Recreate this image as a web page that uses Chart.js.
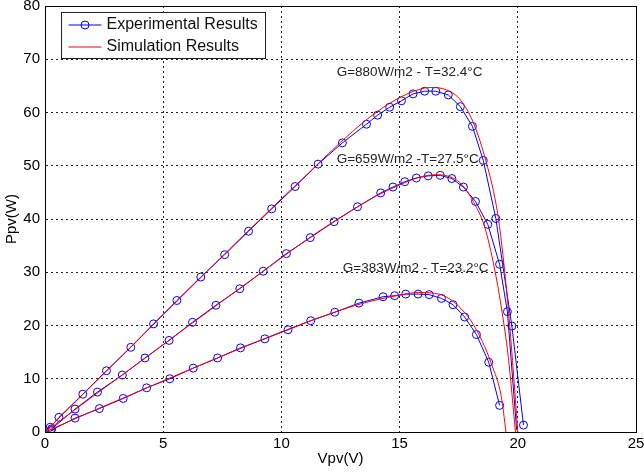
<!DOCTYPE html>
<html>
<head>
<meta charset="utf-8">
<script src="https://cdn.jsdelivr.net/npm/chart.js@4.4.1/dist/chart.umd.min.js"></script>
<style>
  html, body { margin: 0; padding: 0; background: #fff; }
  #wrap { width: 644px; height: 472px; }
</style>
</head>
<body>
<div id="wrap"><canvas id="c" width="644" height="472"></canvas></div>
<script>
// ---------- DATA ----------
// Experimental results (blue, circles)
const exp880V = [0.22, 0.59, 1.60, 2.60, 3.63, 4.59, 5.58, 6.59, 7.60, 8.61, 9.59, 10.58, 11.55, 12.58, 13.60, 14.07, 14.58, 15.08, 15.57, 16.06, 16.53, 17.06, 17.57, 18.08, 18.54, 19.07, 19.75, 20.24];
const exp880P = [0.9, 2.75, 7.1, 11.5, 15.9, 20.3, 24.7, 29.1, 33.3, 37.7, 41.9, 46.1, 50.3, 54.3, 57.8, 59.5, 61.0, 62.2, 63.5, 64.0, 64.0, 63.3, 61.1, 57.4, 51.0, 40.1, 19.9, 1.3];

const exp659V = [0.28, 1.27, 2.22, 3.27, 4.23, 5.25, 6.24, 7.23, 8.24, 9.23, 10.21, 11.22, 12.23, 13.22, 14.20, 14.72, 15.22, 15.71, 16.21, 16.72, 17.21, 17.70, 18.21, 18.73, 19.23, 19.56, 19.95];
const exp659P = [0.6, 4.3, 7.5, 10.7, 13.9, 17.2, 20.6, 23.8, 26.9, 30.2, 33.5, 36.5, 39.5, 42.3, 44.9, 46.0, 47.0, 47.7, 48.1, 48.2, 47.6, 46.0, 43.3, 39.0, 31.5, 22.6, 0.4];

const exp383V = [0.25, 1.27, 2.30, 3.31, 4.30, 5.28, 6.27, 7.30, 8.27, 9.30, 10.28, 11.24, 12.26, 13.28, 14.30, 14.79, 15.26, 15.78, 16.25, 16.77, 17.26, 17.75, 18.25, 18.77, 19.23];
const exp383P = [0.3, 2.6, 4.4, 6.3, 8.3, 10.0, 12.0, 13.9, 15.8, 17.5, 19.2, 20.9, 22.5, 24.2, 25.4, 25.6, 25.9, 25.9, 25.8, 25.1, 23.9, 21.6, 18.3, 13.1, 5.0];

// Simulation results (red lines)
const sim880V = [0, 1, 2, 3, 4, 5, 6, 7, 8, 9, 10, 11, 12, 13, 14, 15, 15.8, 16.3, 16.8, 17.3, 17.6, 18.1, 18.6, 19.1, 19.3, 19.6, 19.8, 20.0];
const sim880P = [0, 4.4, 8.8, 13.2, 17.6, 22.0, 26.4, 30.8, 35.2, 39.5, 43.8, 48.0, 52.3, 56.4, 60.0, 62.8, 64.3, 64.7, 64.5, 63.5, 62.2, 58.3, 51.7, 42.3, 36.0, 23.0, 12.0, 0];

const sim659V = [0, 2, 4, 6, 8, 10, 11, 12, 13, 14, 15, 15.8, 16.5, 17.0, 17.6, 18.2, 18.6, 19.0, 19.3, 19.6, 19.9];
const sim659P = [0, 6.6, 13.1, 19.7, 26.2, 32.7, 35.9, 38.9, 41.7, 44.3, 46.4, 47.8, 48.3, 48.1, 46.6, 42.6, 38.5, 31.0, 23.5, 14.0, 0];

const sim383V = [0, 2, 4, 6, 8, 10, 11, 12, 13, 14, 15, 15.8, 16.4, 17.0, 17.5, 18.0, 18.5, 18.9, 19.3, 19.5];
const sim383P = [0, 3.9, 7.7, 11.5, 15.2, 18.8, 20.5, 22.1, 23.6, 24.8, 25.7, 26.2, 26.1, 25.3, 23.6, 21.0, 17.0, 12.6, 6.7, 0];

// Axis ticks
const xTicks = [0, 5, 10, 15, 20, 25];
const yTicks = [0, 10, 20, 30, 40, 50, 60, 70, 80];

// Curve annotations
const labelTexts = ['G=880W/m2 - T=32.4°C', 'G=659W/m2 -T=27.5°C', 'G=383W/m2 - T=23.2°C'];
const labelV = [12.34, 12.34, 12.6];
const labelP = [67.6, 51.25, 30.8];

const legendNames = ['Experimental Results', 'Simulation Results'];
const xTitle = 'Vpv(V)';
const yTitle = 'Ppv(W)';

// ---------- CHART ----------
const FONT = '"Liberation Sans", Arial, Helvetica, sans-serif';
const BLUE = '#0000ff';
const RED = '#ff0000';

function pts(xs, ys) { return xs.map((x, i) => ({ x: x, y: ys[i] })); }

function expSet(xs, ys, hideLast) {
  return {
    data: pts(xs, ys),
    showLine: true,
    borderColor: BLUE,
    borderWidth: 1,
    backgroundColor: 'rgba(0,0,0,0)',
    pointStyle: 'circle',
    pointRadius: ctx => (hideLast && ctx.dataIndex === xs.length - 1) ? 0 : 4,
    pointBorderColor: BLUE,
    pointBackgroundColor: 'rgba(0,0,0,0)',
    pointBorderWidth: 1,
    tension: 0,
    order: 2
  };
}
function simSet(xs, ys) {
  return {
    data: pts(xs, ys),
    showLine: true,
    borderColor: RED,
    borderWidth: 1,
    pointRadius: 0,
    cubicInterpolationMode: 'monotone',
    order: 1
  };
}

const framePlugin = {
  id: 'frame',
  beforeDatasetsDraw(chart) {
    const { ctx, scales } = chart;
    ctx.save();
    ctx.font = '13.5px ' + FONT;
    ctx.fillStyle = '#222';
    ctx.textBaseline = 'middle';
    ctx.textAlign = 'left';
    labelTexts.forEach((t, i) => {
      ctx.fillText(t, scales.x.getPixelForValue(labelV[i]), scales.y.getPixelForValue(labelP[i]));
    });
    ctx.restore();
  },
  afterDraw(chart) {
    const { ctx, chartArea: a } = chart;
    ctx.save();
    ctx.strokeStyle = '#000';
    ctx.lineWidth = 1;
    ctx.setLineDash([]);
    const L = Math.round(a.left) + 0.5, T = Math.round(a.top) + 0.5;
    const R = Math.round(a.right) + 0.5, B = Math.round(a.bottom) + 0.5;
    ctx.strokeRect(L, T, R - L, B - T);

    // legend box inside plot area
    const bx = L + 16, by = T + 6, bw = 204, bh = 46;
    ctx.fillStyle = '#fff';
    ctx.fillRect(bx, by, bw, bh);
    ctx.strokeStyle = '#222';
    ctx.strokeRect(bx, by, bw, bh);

    const rows = [by + 12.5, by + 34.5];
    // experimental sample
    ctx.strokeStyle = BLUE;
    ctx.beginPath(); ctx.moveTo(bx + 7, rows[0]); ctx.lineTo(bx + 40, rows[0]); ctx.stroke();
    ctx.beginPath(); ctx.arc(bx + 23.5, rows[0], 4, 0, Math.PI * 2); ctx.stroke();
    // simulation sample
    ctx.strokeStyle = RED;
    ctx.beginPath(); ctx.moveTo(bx + 7, rows[1]); ctx.lineTo(bx + 40, rows[1]); ctx.stroke();

    ctx.fillStyle = '#111';
    ctx.font = '16px ' + FONT;
    ctx.textBaseline = 'middle';
    ctx.textAlign = 'left';
    ctx.fillText(legendNames[0], bx + 45, rows[0]);
    ctx.fillText(legendNames[1], bx + 45, rows[1]);
    ctx.restore();
  }
};

new Chart(document.getElementById('c'), {
  type: 'scatter',
  data: {
    datasets: [
      simSet(sim880V, sim880P),
      simSet(sim659V, sim659P),
      simSet(sim383V, sim383P),
      expSet(exp880V, exp880P, false),
      expSet(exp659V, exp659P, true),
      expSet(exp383V, exp383P, false)
    ]
  },
  options: {
    responsive: false,
    animation: false,
    layout: { padding: { top: 6, right: 8, left: 0, bottom: 0 } },
    plugins: { legend: { display: false }, tooltip: { enabled: false } },
    scales: {
      x: {
        type: 'linear',
        min: 0, max: 25,
        afterBuildTicks: s => { s.ticks = xTicks.map(v => ({ value: v })); },
        afterFit: s => { s.height = 40; s.paddingLeft = 0; s.paddingRight = 0; },
        ticks: { color: '#000', font: { family: FONT, size: 15 }, padding: 3, maxRotation: 0 },
        grid: { color: '#222', lineWidth: 1, drawTicks: false },
        border: { display: true, color: '#000', width: 1, dash: [2, 3] },
        title: { display: true, text: xTitle, color: '#000', font: { family: FONT, size: 15 }, padding: { top: 0, bottom: 4 } }
      },
      y: {
        type: 'linear',
        min: 0, max: 80,
        afterBuildTicks: s => { s.ticks = yTicks.map(v => ({ value: v })); },
        afterFit: s => { s.width = 45; s.paddingTop = 0; s.paddingBottom = 0; },
        ticks: { color: '#000', font: { family: FONT, size: 15 }, padding: 5 },
        grid: { color: '#222', lineWidth: 1, drawTicks: false },
        border: { display: true, color: '#000', width: 1, dash: [2, 3] },
        title: { display: true, text: yTitle, color: '#000', font: { family: FONT, size: 15 }, padding: { top: 3, bottom: 0 } }
      }
    }
  },
  plugins: [framePlugin]
});
</script>
</body>
</html>
